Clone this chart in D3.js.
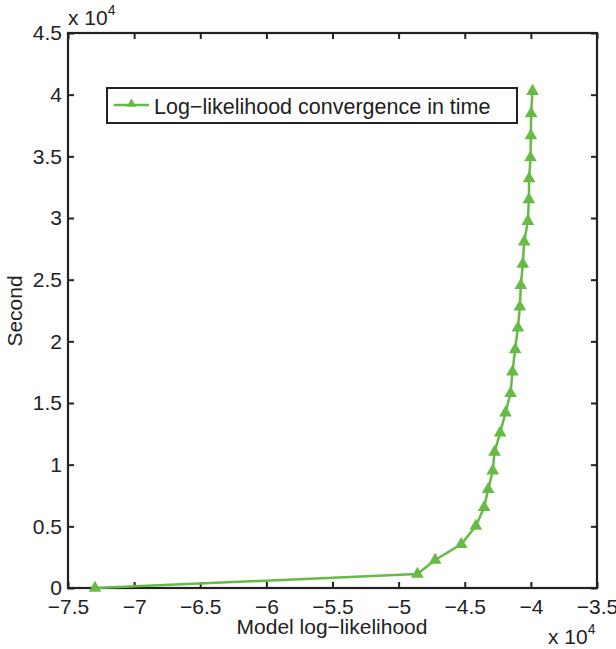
<!DOCTYPE html>
<html>
<head>
<meta charset="utf-8">
<script src="https://d3js.org/d3.v7.min.js"></script>
<style>
  body { margin: 0; background: #fff; }
  svg text { font-family: "Liberation Sans", Arial, Helvetica, sans-serif; fill: #222; }
</style>
</head>
<body>
<svg id="chart" width="616" height="649"></svg>
<script>
    // log-likelihood (x) vs elapsed seconds (y)
    const logLik = [-72960, -48580, -47240, -45270, -44160, -43530, -43230, -42880, -42750,
                    -42320, -41920, -41540, -41390, -41190, -40980, -40830, -40760, -40610,
                    -40510, -40230, -40150, -40130, -40030, -40000, -39980, -39880];
    const seconds = [0, 1130, 2270, 3540, 5020, 6540, 8000, 9510, 11020,
                     12590, 14210, 15780, 17530, 19340, 21100, 22800, 24550, 26260,
                     28060, 29740, 31500, 33200, 34900, 36680, 38470, 40280];
    const xTicks = [-7.5, -7, -6.5, -6, -5.5, -5, -4.5, -4, -3.5];
    const yTicks = [0, 0.5, 1, 1.5, 2, 2.5, 3, 3.5, 4, 4.5];
    const legendLabel = "Log\u2212likelihood convergence in time";
    const green = "#66bb44";

    const svg = d3.select("#chart");
    const margin = { top: 33, right: 19, bottom: 61, left: 68 },
          width = 616 - margin.left - margin.right,
          height = 649 - margin.top - margin.bottom;

    const g = svg.append("g").attr("transform", `translate(${margin.left},${margin.top})`);

    // scales in units of 10^4
    const x = d3.scaleLinear().domain([-7.5, -3.5]).range([0, width]);
    const y = d3.scaleLinear().domain([0, 4.5]).range([height, 0]);

    const fmt = d => d3.format("")(d).replace("-", "\u2212");

    // axes with inward ticks, on all four sides (box on)
    const axB = g.append("g").attr("transform", `translate(0,${height})`)
        .call(d3.axisBottom(x).tickValues(xTicks).tickSize(-6).tickPadding(11).tickFormat(fmt));
    const axL = g.append("g")
        .call(d3.axisLeft(y).tickValues(yTicks).tickSize(-6).tickPadding(6).tickFormat(fmt));
    const axT = g.append("g")
        .call(d3.axisTop(x).tickValues(xTicks).tickSize(-6).tickFormat(""));
    const axR = g.append("g").attr("transform", `translate(${width},0)`)
        .call(d3.axisRight(y).tickValues(yTicks).tickSize(-6).tickFormat(""));

    [axB, axL, axT, axR].forEach(a => {
        a.select(".domain").remove();
        a.selectAll(".tick line").attr("stroke", "#222").attr("stroke-width", 2);
        a.selectAll("text").style("font-size", "21px").attr("fill", "#222");
    });

    g.append("rect").attr("width", width).attr("height", height)
        .attr("fill", "none").attr("stroke", "#222").attr("stroke-width", 2.2);

    // data line
    const pts = logLik.map((v, i) => [x(v / 1e4), y(seconds[i] / 1e4)]);
    g.append("path").datum(pts)
        .attr("fill", "none").attr("stroke", green).attr("stroke-width", 2.5)
        .attr("d", d3.line());

    const tri = d3.symbol().type(d3.symbolTriangle).size(70);
    g.selectAll(".mk").data(pts).enter().append("path")
        .attr("class", "mk")
        .attr("transform", d => `translate(${d[0]},${d[1]})`)
        .attr("d", tri).attr("fill", green);

    // legend
    const lg = svg.append("g").attr("transform", "translate(107,88)");
    lg.append("rect").attr("width", 410).attr("height", 35)
        .attr("fill", "#fff").attr("stroke", "#222").attr("stroke-width", 2);
    lg.append("line").attr("x1", 7).attr("x2", 42).attr("y1", 17).attr("y2", 17)
        .attr("stroke", green).attr("stroke-width", 2.5);
    lg.append("path").attr("transform", "translate(24.5,16)")
        .attr("d", d3.symbol().type(d3.symbolTriangle).size(40)).attr("fill", green);
    lg.append("text").attr("x", 47).attr("y", 26).style("font-size", "21.5px").text(legendLabel);

    // axis labels
    svg.append("text").attr("x", 332).attr("y", 634).attr("text-anchor", "middle")
        .style("font-size", "21px").text("Model log\u2212likelihood");
    svg.append("text").attr("transform", "translate(22,311) rotate(-90)")
        .attr("text-anchor", "middle").style("font-size", "21px").text("Second");

    // exponent markers
    const e1 = svg.append("text").attr("x", 68).attr("y", 25).style("font-size", "21px");
    e1.append("tspan").text("x 10");
    e1.append("tspan").attr("dy", -10).style("font-size", "14px").text("4");
    const e2 = svg.append("text").attr("x", 548).attr("y", 644).style("font-size", "21px");
    e2.append("tspan").text("x 10");
    e2.append("tspan").attr("dy", -10).style("font-size", "14px").text("4");
</script>
</body>
</html>
